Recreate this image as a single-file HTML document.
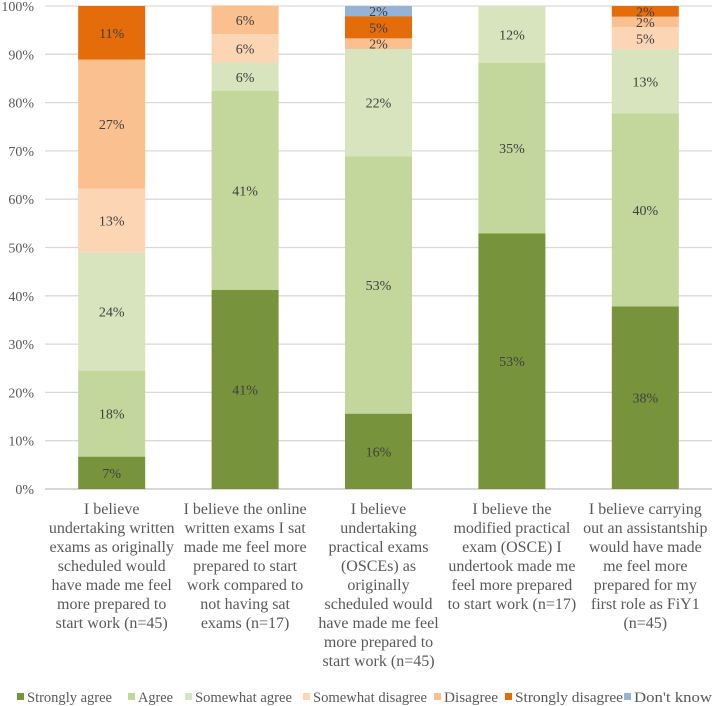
<!DOCTYPE html>
<html><head><meta charset="utf-8"><style>
body{margin:0;background:#fff;}
svg{display:block;}
text{font-family:"Liberation Serif","DejaVu Serif",serif;}
</style></head><body>
<svg id="c" width="712" height="706"></svg>
<script>
const categories=[
["I believe","undertaking written","exams as originally","scheduled would","have made me feel","more prepared to","start work (n=45)"],
["I believe the online","written exams I sat","made me feel more","prepared to start","work compared to","not having sat","exams (n=17)"],
["I believe","undertaking","practical exams","(OSCEs) as","originally","scheduled would","have made me feel","more prepared to","start work (n=45)"],
["I believe the","modified practical","exam (OSCE) I","undertook made me","feel more prepared","to start work (n=17)"],
["I believe carrying","out an assistantship","would have made","me feel more","prepared for my","first role as FiY1","(n=45)"]];
const seriesNames=["Strongly agree","Agree","Somewhat agree","Somewhat disagree","Disagree","Strongly disagree","Don't know"];
const seriesColors=["#77933C","#C3D69B","#D7E4BD","#FCD5B5","#FAC090","#E46C0A","#95B3D7"];
const stronglyAgree=[6.7,41.2,15.6,52.9,37.8];
const agree=[17.8,41.2,53.3,35.3,40.0];
const somewhatAgree=[24.4,5.9,22.2,11.8,13.2];
const somewhatDisagree=[13.3,5.9,0,0,4.6];
const disagree=[26.7,5.9,2.2,0,2.2];
const stronglyDisagree=[11.1,0,4.6,0,2.2];
const dontKnow=[0,0,2.1,0,0];
const yTicks=[0,10,20,30,40,50,60,70,80,90,100];
const series=[stronglyAgree,agree,somewhatAgree,somewhatDisagree,disagree,stronglyDisagree,dontKnow];
const svg=document.getElementById('c');const NS="http://www.w3.org/2000/svg";
const X0=45,X1=712,Y0=489,Y1=6;
const y=v=>Y0-(Y0-Y1)*v/100;
const band=(X1-X0)/categories.length;
const xc=i=>X0+band*(i+0.5);
const BW=67;
function mk(t,a,p){const e=document.createElementNS(NS,t);for(const k in a)e.setAttribute(k,a[k]);(p||svg).appendChild(e);return e;}
function txt(x,yy,s,size,anchor,fill){
 const t=mk('text',{x:x,y:yy,'text-anchor':anchor,'font-size':size,fill:fill,'font-family':'Liberation Serif, DejaVu Serif, serif'});
 t.textContent=s;return t;
}
yTicks.forEach(t=>{
 const l=mk('line',{x1:X0,x2:X1,y1:y(t),y2:y(t),stroke:t===0?'#bfbfbf':'#d9d9d9','stroke-width':1.3});
 
 
 const tx=txt(34,y(t)+5,t+'%',14,'end','#595959');
 
 
});
categories.forEach((lines,i)=>{
 let cum=0;
 series.forEach((s,k)=>{
  const v=s[i];if(v<=0)return;
  const r=mk('rect',{x:xc(i)-BW/2,y:y(cum+v),width:BW,height:y(cum)-y(cum+v),fill:seriesColors[k]});
  
  
  const t=txt(xc(i),y(cum+v/2)+5,Math.round(v)+'%',14,'middle','#404040');
  
  
  cum+=v;
 });
 lines.forEach((ln,j)=>{
  const t=txt(xc(i),514+j*19,ln,16,'middle','#595959');
  
  
 });
});
const lx=[17,128,185,303,434,505,624];
const lw=[85,35,97,114,54,108,78];
seriesNames.forEach((n,k)=>{
 const r=mk('rect',{x:lx[k],y:693,width:7,height:7,fill:seriesColors[k]});
 
 
 const t=mk('text',{x:lx[k]+10,y:702,'font-size':15,fill:'#595959',textLength:lw[k],lengthAdjust:'spacingAndGlyphs','font-family':'Liberation Serif, DejaVu Serif, serif'});
 t.textContent=n;
 
 
});
</script>
</body></html>
